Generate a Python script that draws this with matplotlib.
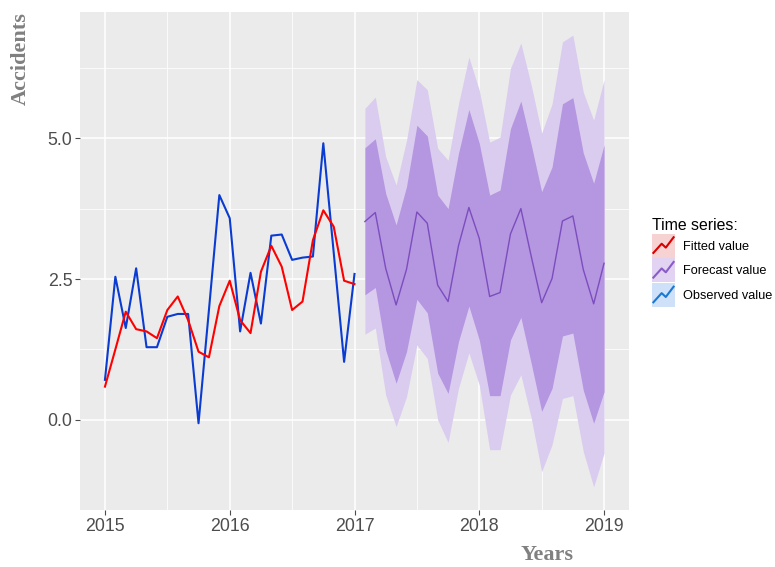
import numpy as np
import matplotlib
matplotlib.use("Agg")
import matplotlib.pyplot as plt
from matplotlib.legend_handler import HandlerBase
from matplotlib.patches import Rectangle
from matplotlib.lines import Line2D

# monthly observed / fitted, Jan 2015 .. Jan 2017
observed = [0.71, 2.54, 1.63, 2.69, 1.29, 1.29, 1.83, 1.88, 1.88, -0.06, 1.95, 3.99, 3.58,
            1.57, 2.61, 1.71, 3.27, 3.29, 2.84, 2.88, 2.90, 4.91, 2.97, 1.03, 2.59]
fitted = [0.59, 1.25, 1.92, 1.61, 1.57, 1.45, 1.95, 2.19, 1.77, 1.21, 1.11, 2.02, 2.47,
          1.77, 1.54, 2.63, 3.09, 2.72, 1.95, 2.10, 3.19, 3.72, 3.43, 2.47, 2.41]

# forecast Feb 2017 .. Jan 2019
fc_mean = [3.52, 3.68, 2.69, 2.04, 2.67, 3.69, 3.49, 2.39, 2.10, 3.09, 3.77, 3.22,
           2.19, 2.26, 3.30, 3.75, 2.90, 2.08, 2.51, 3.53, 3.62, 2.67, 2.06, 2.78]
hi80 = [4.83, 4.99, 4.02, 3.46, 4.14, 5.23, 5.04, 3.99, 3.75, 4.73, 5.51, 4.91,
        3.99, 4.08, 5.17, 5.66, 4.88, 4.05, 4.49, 5.61, 5.72, 4.74, 4.20, 4.88]
lo80 = [2.22, 2.35, 1.24, 0.65, 1.21, 2.14, 1.90, 0.83, 0.47, 1.39, 2.02, 1.42,
        0.43, 0.43, 1.42, 1.82, 1.00, 0.15, 0.56, 1.49, 1.54, 0.53, -0.06, 0.50]
hi95 = [5.53, 5.73, 4.67, 4.17, 4.96, 6.04, 5.86, 4.82, 4.61, 5.61, 6.44, 5.85,
        4.93, 5.02, 6.24, 6.69, 5.94, 5.09, 5.61, 6.71, 6.83, 5.82, 5.32, 6.04]
lo95 = [1.52, 1.63, 0.44, -0.12, 0.41, 1.33, 1.09, 0.00, -0.40, 0.56, 1.19, 0.62,
        -0.53, -0.53, 0.44, 0.80, 0.03, -0.92, -0.44, 0.38, 0.43, -0.56, -1.19, -0.59]

years = [2015, 2016, 2017, 2018, 2019]
yticks = [0.0, 2.5, 5.0]

t_obs = 2015 + np.arange(len(observed)) / 12
t_fc = 2017 + np.arange(1, len(fc_mean) + 1) / 12


class KeyHandler(HandlerBase):
    def __init__(self, bg):
        super().__init__()
        self.bg = bg

    def create_artists(self, legend, orig, xd, yd, w, h, fontsize, trans):
        box = Rectangle((-xd, -yd), w, h, fc=self.bg, ec="none", transform=trans)
        xs = -xd + w * np.array([0.06, 0.42, 0.6, 0.94])
        ys = -yd + h * np.array([0.2, 0.58, 0.42, 0.85])
        ln = Line2D(xs, ys, color=orig.get_color(), lw=1.5, transform=trans)
        return [box, ln]


W, H = 775, 567
fig = plt.figure(figsize=(W / 100, H / 100), dpi=100)
ax = fig.add_axes([80 / W, 1 - 510 / H, 549 / W, 498 / H])
ax.set_facecolor("#EBEBEB")

ax.fill_between(t_fc, lo95, hi95, color="#DACCEF", lw=0)
ax.fill_between(t_fc, lo80, hi80, color="#B596E0", lw=0)
ax.plot(t_fc, fc_mean, color="#7C4DBE", lw=1.0)
ax.plot(t_obs, observed, color="#0A3CD2", lw=1.5)
ax.plot(t_obs, fitted, color="#FF0000", lw=1.5)

ax.set_xlim(2014.8, 2019.2)
ax.set_ylim(-1.6, 7.24)
ax.set_xticks(years)
ax.set_xticklabels([str(y) for y in years])
ax.set_yticks(yticks)
ax.set_yticklabels(["%.1f" % v for v in yticks])
ax.set_xticks([2015.5, 2016.5, 2017.5, 2018.5], minor=True)
ax.set_yticks([1.25, 3.75, 6.25], minor=True)
ax.grid(True, which="major", color="white", lw=1.1)
ax.grid(True, which="minor", color="white", lw=0.55)
ax.set_axisbelow(True)
for s in ax.spines.values():
    s.set_visible(False)
ax.tick_params(which="major", length=3.5, width=0.8, color="#4D4D4D",
               labelcolor="#4D4D4D", labelsize=12.8, pad=2)
ax.tick_params(which="minor", length=0)
for lab in ax.get_xticklabels() + ax.get_yticklabels():
    lab.set_family("Liberation Sans")

fig.text(21 / W, 1 - 12 / H, "Accidents", rotation=90, ha="center", va="top",
         family="Liberation Serif", weight="bold", size=16, color="#808080")
fig.text(547 / W, 1 - 555 / H, "Years", ha="center", va="center",
         family="Liberation Serif", weight="bold", size=16, color="#808080")

h_fit = Line2D([], [], color="#D90000")
h_fc = Line2D([], [], color="#8A5CC8")
h_obs = Line2D([], [], color="#1C78D0")
leg = fig.legend([h_fit, h_fc, h_obs], ["Fitted value", "Forecast value", "Observed value"],
                 title="Time series:", loc="upper left",
                 bbox_to_anchor=(652 / W, 1 - 218 / H), frameon=False,
                 handler_map={h_fit: KeyHandler("#F7D2D2"), h_fc: KeyHandler("#E1D3F1"),
                              h_obs: KeyHandler("#CFE1F8")},
                 prop={"family": "Liberation Sans", "size": 9.2},
                 title_fontproperties={"family": "Liberation Sans", "size": 11.4},
                 handlelength=1.8, handleheight=2.52, labelspacing=0.05,
                 handletextpad=0.65, borderpad=0, borderaxespad=0, alignment="left")

fig.savefig("out.png", dpi=100)
